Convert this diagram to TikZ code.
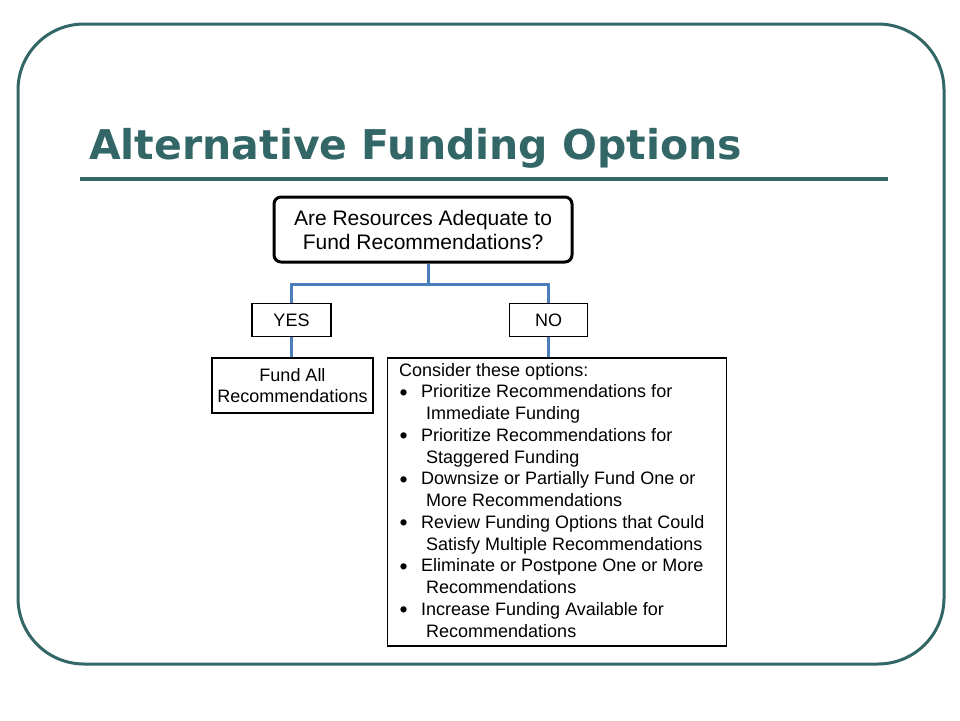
\documentclass[tikz,border=0pt]{standalone}
\usepackage{fontspec}
\setmainfont{Liberation Sans}
\newfontfamily\titlefont{DejaVu Sans}
\definecolor{slidegreen}{HTML}{336666}
\definecolor{connblue}{HTML}{4A7EBB}
\tikzset{
  frame/.style={draw=slidegreen, line width=3pt, rounded corners=66pt},
  rule/.style={draw=slidegreen, line width=4.5pt},
  qbox/.style={draw=black, line width=3pt, rounded corners=7pt, align=center, inner sep=0pt,
    font=\fontsize{21}{24}\selectfont},
  tbox/.style={draw=black, line width=1.5pt, align=center, inner sep=0pt,
    font=\fontsize{18}{21}\selectfont},
  conn/.style={draw=connblue, line width=3pt},
}
\newcommand\optbul{\makebox[22pt][l]{\hspace*{0.5pt}\raisebox{-2.5pt}{\fontsize{23}{23}\selectfont\textbullet}}}
\newcommand\optcon{\hspace*{27pt}}
\begin{document}
\begin{tikzpicture}[x=1pt,y=-1pt]
\useasboundingbox (0,0) rectangle (960,720);
\draw[frame] (18,24) rectangle (944,664);
\node[anchor=base west, inner sep=0pt, text=slidegreen,
  font=\titlefont\bfseries\fontsize{41}{41}\selectfont] (title) at (89,159) {Alternative Funding Options};
\coordinate (rl) at (80,179);
\coordinate (rr) at (888,179);
\draw[rule] (rl) -- (rr);

\node[qbox, minimum width=298pt, minimum height=65pt] (q) at (423,229.5)
  {Are Resources Adequate to\\Fund Recommendations?};
\node[tbox, minimum width=79pt, minimum height=33pt] (yes) at (291.5,320) {YES};
\node[tbox, minimum width=78pt, minimum height=33pt] (no) at (548.5,320) {NO};
\node[tbox, minimum width=161pt, minimum height=55pt] (fund) at (292.5,385.5)
  {Fund All\\Recommendations};
\node[draw=black, line width=1.5pt, minimum width=339pt, minimum height=288pt, inner sep=0pt]
  (opt) at (557,502) {};
\node[anchor=base west, inner sep=0pt, font=\fontsize{18}{21.75}\selectfont] (opttext) at (399,376)
  {\parbox[t]{320pt}{\raggedright
  Consider these options:\\
  \optbul Prioritize Recommendations for\\
  \optcon Immediate Funding\\
  \optbul Prioritize Recommendations for\\
  \optcon Staggered Funding\\
  \optbul Downsize or Partially Fund One or\\
  \optcon More Recommendations\\
  \optbul Review Funding Options that Could\\
  \optcon Satisfy Multiple Recommendations\\
  \optbul Eliminate or Postpone One or More\\
  \optcon Recommendations\\
  \optbul Increase Funding Available for\\
  \optcon Recommendations}};

\coordinate (j) at (428,284);
\draw[conn] (q.south -| j) -- (j);
\draw[conn] (yes.north) -- (yes.north |- j) -- (no.north |- j) -- (no.north);
\draw[conn] (yes.south) -- (yes.south |- fund.north);
\draw[conn] (no.south) -- (no.south |- opt.north);
\end{tikzpicture}
\end{document}
